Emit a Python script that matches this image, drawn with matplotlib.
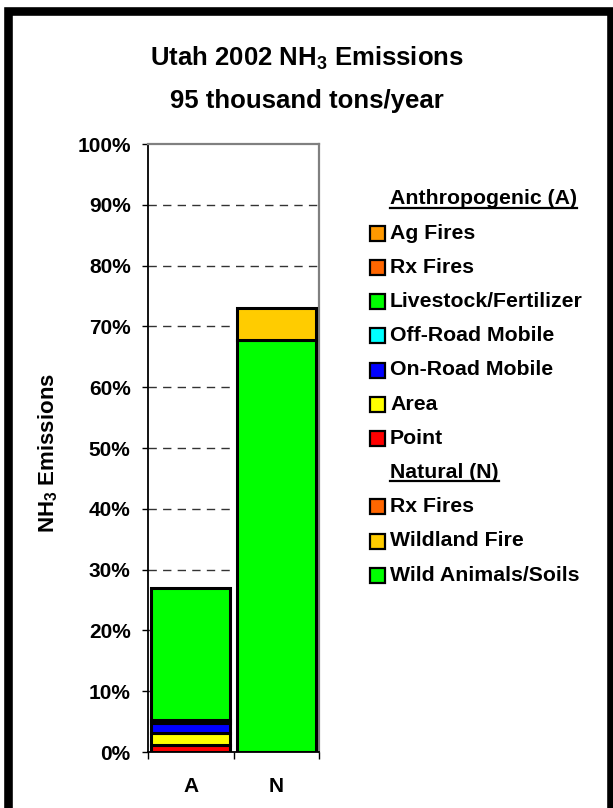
import matplotlib
matplotlib.use('Agg')
import matplotlib.pyplot as plt
from matplotlib.patches import Rectangle
from matplotlib.lines import Line2D
import numpy as np

plt.rcParams['font.family'] = ['Liberation Sans', 'DejaVu Sans']
plt.rcParams['font.weight'] = 'bold'
plt.rcParams['mathtext.fontset'] = 'custom'
plt.rcParams['mathtext.rm'] = 'Liberation Sans:bold'
plt.rcParams['mathtext.it'] = 'Liberation Sans:bold'
plt.rcParams['mathtext.bf'] = 'Liberation Sans:bold'

# data (percent of total NH3 emissions)
categories = ['A', 'N']

anthro_labels = ['Ag Fires', 'Rx Fires', 'Livestock/Fertilizer', 'Off-Road Mobile',
                 'On-Road Mobile', 'Area', 'Point']
anthro_colors = ['#FF9900', '#FF6600', '#00FF00', '#00FFFF', '#0000FF', '#FFFF00', '#FF0000']
anthro_share = [0.0, 0.0, 21.8, 0.4, 1.7, 2.0, 1.1]

natural_labels = ['Rx Fires', 'Wildland Fire', 'Wild Animals/Soils']
natural_colors = ['#FF6600', '#FFCC00', '#00FF00']
natural_share = [0.0, 5.2, 67.8]

yticks = [0, 10, 20, 30, 40, 50, 60, 70, 80, 90, 100]
ytick_labels = ['0%', '10%', '20%', '30%', '40%', '50%', '60%', '70%', '80%', '90%', '100%']

W, H = 613, 808
fig = plt.figure(figsize=(W / 100, H / 100), dpi=100)
ax = fig.add_axes([148 / W, 1 - 752 / H, 171 / W, 608 / H])

x = np.arange(len(categories))
groups = [(anthro_share, anthro_colors), (natural_share, natural_colors)]
for i, (vals, cols) in enumerate(groups):
    bottom = 0
    # legend order is top-down, stack bottom-up
    for v, c in zip(vals[::-1], cols[::-1]):
        if v > 0:
            ax.bar(x[i], v, bottom=bottom, width=0.92, color=c,
                   edgecolor='black', linewidth=2.2, zorder=3)
        bottom += v

ax.set_xlim(-0.5, 1.5)
ax.set_ylim(0, 100)
ax.set_yticks(yticks)
ax.set_yticklabels(ytick_labels, fontsize=15, fontweight='bold')
ax.tick_params(axis='y', direction='out', length=4.5, width=1, pad=8)

ax.set_xticks([-0.5, 0.5, 1.5])
ax.set_xticklabels([])
ax.tick_params(axis='x', which='major', direction='out', length=5, width=1)
ax.set_xticks(x, minor=True)
ax.set_xticklabels(categories, minor=True, fontsize=15, fontweight='bold')
ax.tick_params(axis='x', which='minor', length=0, pad=18)

for v in yticks[1:-1]:
    ax.axhline(v, color='#333333', lw=1.0, dashes=(6, 4.5), zorder=1)

ax.spines['left'].set_color('black')
ax.spines['bottom'].set_color('black')
ax.spines['left'].set_linewidth(1.3)
ax.spines['bottom'].set_linewidth(1.3)
ax.spines['top'].set_color('#808080')
ax.spines['right'].set_color('#808080')
ax.spines['top'].set_linewidth(1.6)
ax.spines['right'].set_linewidth(1.6)

fig.text(48 / W, 1 - 453 / H, r'NH$_3$ Emissions', rotation=90, ha='center', va='center',
         fontsize=16, fontweight='bold')

fig.text(0.5, 1 - 58 / H, r'Utah 2002 NH$_3$ Emissions', ha='center', va='center',
         fontsize=18.5, fontweight='bold')
fig.text(0.5, 1 - 101 / H, '95 thousand tons/year', ha='center', va='center',
         fontsize=18.5, fontweight='bold')

# legend, drawn by hand so the group headers can sit in it
rows = [('Anthropogenic (A)', None)] + list(zip(anthro_labels, anthro_colors)) \
    + [('Natural (N)', None)] + list(zip(natural_labels, natural_colors))
row0, step = 199, 34.2
headers = []
for k, (lab, col) in enumerate(rows):
    yc = row0 + k * step
    t = fig.text(390 / W, 1 - yc / H, lab, ha='left', va='center', fontsize=15.3,
                 fontweight='bold')
    if col is None:
        headers.append(t)
    else:
        fig.add_artist(Rectangle((370 / W, 1 - (yc + 7.5) / H), 15 / W, 15 / H,
                                 transform=fig.transFigure, facecolor=col,
                                 edgecolor='black', linewidth=1.6))

fig.canvas.draw()
r = fig.canvas.get_renderer()
inv = fig.transFigure.inverted()
for t in headers:
    bb = t.get_window_extent(r)
    (x0, y0), (x1, _) = inv.transform([(bb.x0, bb.y0 + 1), (bb.x1, bb.y0 + 1)])
    fig.add_artist(Line2D([x0, x1], [y0, y0], transform=fig.transFigure,
                          color='black', linewidth=1.6))

# outer chart frame (bottom edge runs off the picture)
fig.add_artist(Rectangle((7.5 / W, 1 - 815 / H), 603.5 / W, 804 / H,
                         transform=fig.transFigure, fill=False,
                         edgecolor='black', linewidth=6.2))

fig.savefig('out.png', dpi=100)
